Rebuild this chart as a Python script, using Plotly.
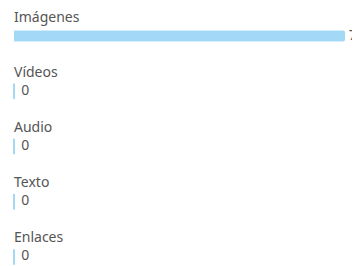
import plotly.graph_objects as go

categories = ["Imágenes", "Vídeos", "Audio", "Texto", "Enlaces"]
values = [7, 0, 0, 0, 0]

BAR_COLOR = "#a3d9f6"
TEXT_COLOR = "#555555"
FONT = "Noto Sans"

fig = go.Figure()
fig.add_trace(go.Bar(
    x=values, y=categories, orientation="h",
    marker=dict(color=BAR_COLOR, line=dict(width=0), cornerradius=2),
    width=0.2, hoverinfo="skip",
))
zero_cats = [c for c, v in zip(categories, values) if v == 0]
zero_vals = [v for v in values if v == 0]
nz_cats = [c for c, v in zip(categories, values) if v != 0]
nz_vals = [v for v in values if v != 0]
fig.add_trace(go.Scatter(
    x=zero_vals, y=zero_cats, mode="markers",
    marker=dict(symbol="line-ns-open", size=11, color=BAR_COLOR,
                line=dict(color=BAR_COLOR, width=2)),
    hoverinfo="skip", cliponaxis=False,
))
# value labels: zero bars have a thin marker, so leave a wider gap
fig.add_trace(go.Scatter(
    x=zero_vals, y=zero_cats, mode="text",
    text=[str(v) for v in zero_vals], texttemplate="\u00a0\u00a0%{text}",
    textposition="middle right",
    textfont=dict(family=FONT, size=14, color=TEXT_COLOR),
    hoverinfo="skip", cliponaxis=False,
))
fig.add_trace(go.Scatter(
    x=nz_vals, y=nz_cats, mode="text",
    text=[str(v) for v in nz_vals], texttemplate="\u00a0%{text}",
    textposition="middle right",
    textfont=dict(family=FONT, size=14, color=TEXT_COLOR),
    hoverinfo="skip", cliponaxis=False,
))

for c in categories:
    fig.add_annotation(x=0, y=c, xref="x", yref="y", text=c, showarrow=False,
                       xanchor="left", yanchor="middle", yshift=20, xshift=-2,
                       font=dict(family=FONT, size=14, color=TEXT_COLOR))

# page body has an 8px default margin, so the figure is drawn 8px in from the corner
fig.update_layout(
    width=352, height=258,
    margin=dict(l=6, r=14, t=0, b=0),
    paper_bgcolor="white", plot_bgcolor="white",
    showlegend=False,
    xaxis=dict(range=[0, 7.02], visible=False, fixedrange=True),
    yaxis=dict(type="category", categoryorder="array", categoryarray=categories,
               range=[4.163, -0.507], visible=False),
    font=dict(family=FONT),
)
fig.write_html("out.html")
